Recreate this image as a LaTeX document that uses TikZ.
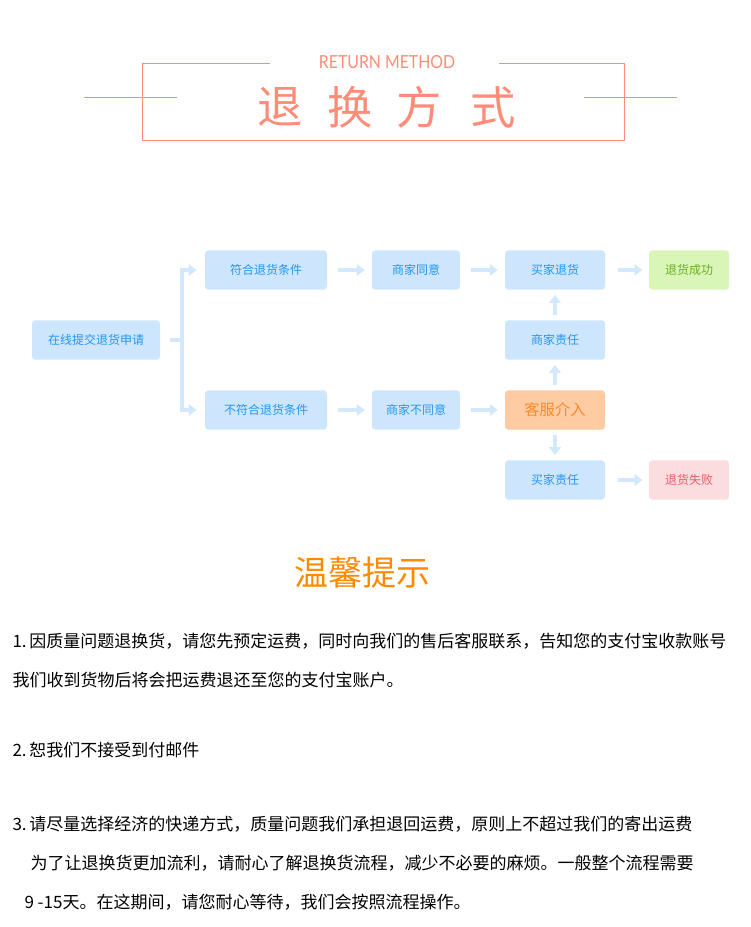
\documentclass[tikz,border=0pt]{standalone}
\usepackage{fontspec}
\setmainfont{Noto Sans CJK SC}
\newfontfamily\latofont[FakeStretch=0.88]{Lato}
\usetikzlibrary{arrows.meta}

\definecolor{salmon}{HTML}{FF8C78}
\definecolor{boxblue}{HTML}{CDE6FD}
\definecolor{txtblue}{HTML}{2496F0}
\definecolor{arrblue}{HTML}{D3E8FC}
\definecolor{okfill}{HTML}{D9F5B8}
\definecolor{oktxt}{HTML}{6DAF1F}
\definecolor{failfill}{HTML}{FBDCDF}
\definecolor{failtxt}{HTML}{E2606A}
\definecolor{svcfill}{HTML}{FFCBA3}
\definecolor{svctxt}{HTML}{FF8A2B}
\definecolor{tipor}{HTML}{FF8A00}

\tikzset{every picture/.style={line width=0.75pt}}
\tikzset{
  box/.style={rectangle, rounded corners=2.5pt, fill=boxblue, text=txtblue,
    font=\fontsize{9}{9}\selectfont, minimum height=29.5pt, inner sep=0pt},
  okbox/.style={box, fill=okfill, text=oktxt},
  failbox/.style={box, fill=failfill, text=failtxt},
  svcbox/.style={box, fill=svcfill, text=svctxt, font=\fontsize{11.5}{11.5}\selectfont},
  flow/.style={draw=arrblue, line width=3.6pt, -{Triangle[length=6pt,width=8.5pt]}},
  tip/.style={anchor=west, font=\fontsize{12.75}{12.75}\selectfont, text=black, inner sep=0pt}
}

\begin{document}
\begin{tikzpicture}[x=0.75pt,y=0.75pt,yscale=-1,xscale=1]
\useasboundingbox (0,0) rectangle (750,927);

%Shape: Frame
\draw [salmon] (270,64) -- (142,64) -- (142,141) -- (624,141) -- (624,64) -- (499,64) ;
%Straight Lines
\draw [salmon] (84,98) -- (177,98) ;
\draw [salmon] (584,98) -- (677,98) ;

% Text Node
\node [text=salmon, font=\latofont\fontsize{13.5}{13.5}\selectfont] (eng) at (387,62) {RETURN METHOD};
\node [text=salmon, font=\fontsize{34}{34}\selectfont] (t1) at (280,107) {退};
\node [text=salmon, font=\fontsize{34}{34}\selectfont] (t2) at (350,107) {换};
\node [text=salmon, font=\fontsize{34}{34}\selectfont] (t3) at (419,107) {方};
\node [text=salmon, font=\fontsize{34}{34}\selectfont] (t4) at (493,107) {式};

%Boxes
\node [box, minimum width=96pt] (shenqing) at (96,340) {在线提交退货申请};
\node [box, minimum width=91.5pt] (fuhe) at (266,270) {符合退货条件};
\node [box, minimum width=91.5pt] (bufuhe) at (266,410) {不符合退货条件};
\node [box, minimum width=66pt] (tongyi) at (416,270) {商家同意};
\node [box, minimum width=66pt] (butongyi) at (416,410) {商家不同意};
\node [box, minimum width=75pt] (maijia) at (555,270) {买家退货};
\node [box, minimum width=75pt] (shangjia) at (555,340) {商家责任};
\node [svcbox, minimum width=75pt] (kefu) at (555,410) {客服介入};
\node [box, minimum width=75pt] (buyer) at (555,480) {买家责任};
\node [okbox, minimum width=60pt] (ok) at (689,270) {退货成功};
\node [failbox, minimum width=60pt] (fail) at (689,480) {退货失败};

%Fork
\coordinate (fork) at (182,340);
\draw [draw=arrblue, line width=3.6pt] (170,340) -- (fork) ;
\draw [flow, shorten >=6pt] (fork) |- (fuhe) ;
\draw [flow, shorten >=6pt] (fork) |- (bufuhe) ;

%Arrows
\draw [flow, shorten <=8pt, shorten >=5pt] (fuhe) -- (tongyi) ;
\draw [flow, shorten <=8pt, shorten >=5pt] (tongyi) -- (maijia) ;
\draw [flow, shorten <=9pt, shorten >=4.5pt] (maijia) -- (ok) ;
\draw [flow, shorten <=8pt, shorten >=5pt] (bufuhe) -- (butongyi) ;
\draw [flow, shorten <=8pt, shorten >=5pt] (butongyi) -- (kefu) ;
\draw [flow, shorten <=3.5pt, shorten >=3.5pt] (shangjia) -- (maijia) ;
\draw [flow, shorten <=3.5pt, shorten >=3.5pt] (kefu) -- (shangjia) ;
\draw [flow, shorten <=3.5pt, shorten >=3.5pt] (kefu) -- (buyer) ;
\draw [flow, shorten <=9pt, shorten >=4.5pt] (buyer) -- (fail) ;

% Text Node
\node [text=tipor, font=\fontsize{25.5}{25.5}\selectfont] (tips) at (362,573) {温馨提示};

\node [tip] (l1) at (12,641) {1.\,因质量问题退换货，请您先预定运费，同时向我们的售后客服联系，告知您的支付宝收款账号};
\node [tip] (l2) at (12,680) {我们收到货物后将会把运费退还至您的支付宝账户。};
\node [tip] (l3) at (12,750) {2.\,恕我们不接受到付邮件};
\node [tip] (l4) at (12,824) {3.\,请尽量选择经济的快递方式，质量问题我们承担退回运费，原则上不超过我们的寄出运费};
\node [tip] (l5) at (30,863) {为了让退换货更加流利，请耐心了解退换货流程，减少不必要的麻烦。一般整个流程需要};
\node [tip] (l6) at (24,902) {9 -15天。在这期间，请您耐心等待，我们会按照流程操作。};
\end{tikzpicture}
\end{document}
